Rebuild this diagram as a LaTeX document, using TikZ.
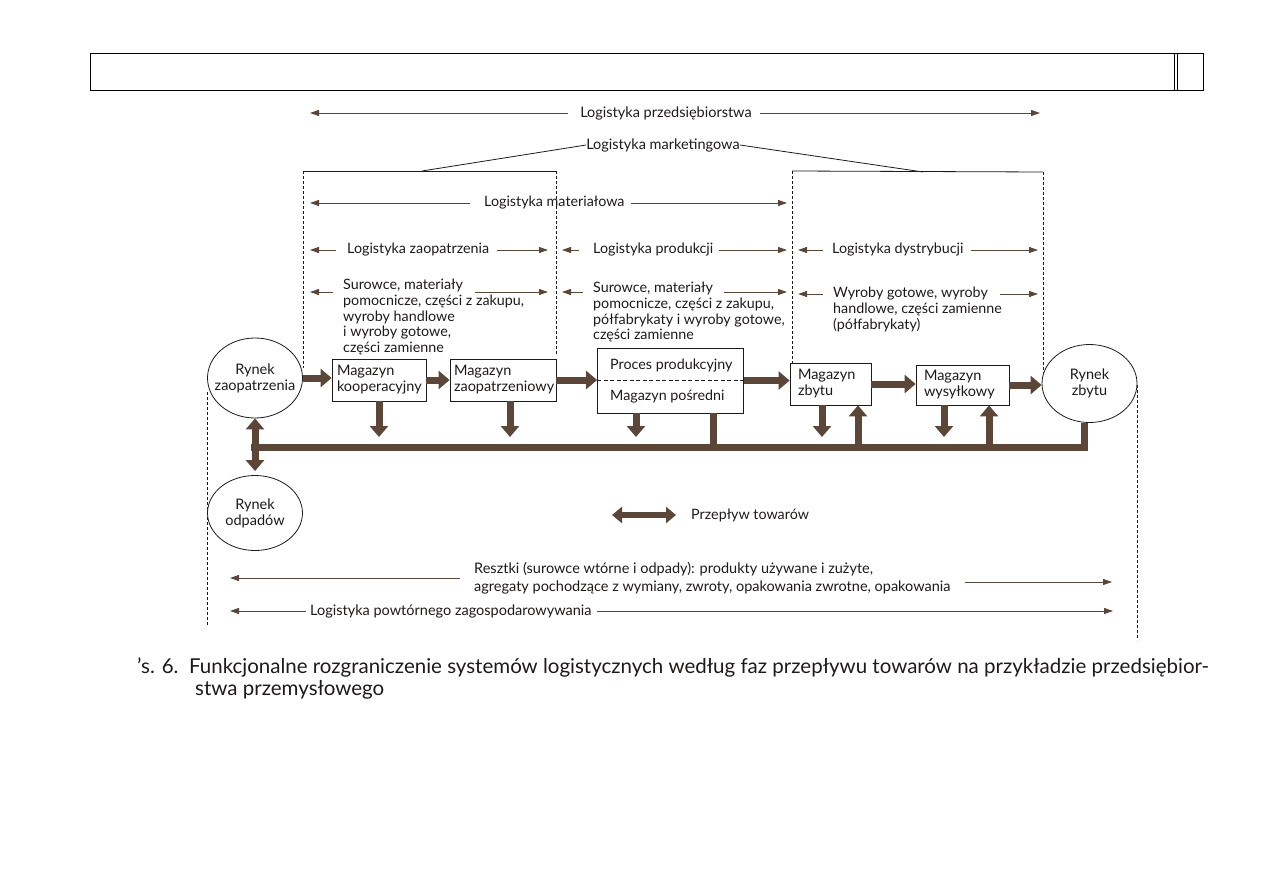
\documentclass[tikz,border=0pt]{standalone}
\usepackage{fontspec}
\setmainfont{Lato}
\usetikzlibrary{arrows.meta,shapes.geometric}
\definecolor{brn}{HTML}{5B4637}
\definecolor{ink}{HTML}{1E1A1A}
\begin{document}
\begin{tikzpicture}[x=1pt,y=-1pt,
  lbl/.style={font=\fontsize{14.3}{15.7}\selectfont, text=ink, inner sep=0pt, align=left},
  nar/.style={font=\fontsize{14.5}{18}\selectfont, text=ink, inner sep=0pt, align=left},
  thinarr/.style={draw=brn, line width=0.9pt, -{Triangle[length=9pt,width=6pt]}},
  bigarr/.style={draw=brn, line width=7pt, -{Triangle[length=11pt,width=18pt]}},
  dblarr/.style={draw=brn, line width=7pt, {Triangle[length=11pt,width=18pt]}-{Triangle[length=11pt,width=18pt]}},
  barline/.style={draw=brn, line width=7pt},
  dsh/.style={draw=ink, line width=0.7pt, dash pattern=on 3pt off 2pt},
  solidl/.style={draw=ink, line width=0.8pt},
  mbox/.style={draw=ink, line width=0.8pt, rectangle, inner xsep=5pt, inner ysep=0pt, align=left,
     font=\fontsize{14.5}{16}\selectfont, text=ink},
  mkt/.style={draw=ink, line width=0.8pt, ellipse, inner sep=0pt},
  mktxt/.style={inner sep=0pt, align=center, font=\fontsize{14.5}{16}\selectfont, text=ink}
]
\useasboundingbox[fill=white] (0,0) rectangle (1263,893);

% header table
\node[draw=black, line width=1.3pt, minimum width=1113pt, minimum height=37pt, inner sep=0pt, anchor=north west] (hdr) at (90,53) {};
\coordinate (h1) at (1174,53); \coordinate (h2) at (1174,90);
\coordinate (h3) at (1177,53); \coordinate (h4) at (1177,90);
\draw[line width=1pt] (h1) -- (h2) (h3) -- (h4);

% Logistyka przedsiebiorstwa
\node[nar, anchor=center] (lp) at (666,113) {Logistyka przedsiębiorstwa};
\coordinate (lpL) at (310,113); \coordinate (lpR) at (1040,113);
\draw[thinarr] ([xshift=-12pt]lp.west) -- (lpL);
\draw[thinarr] ([xshift=8pt]lp.east) -- (lpR);

% Logistyka marketingowa
\node[nar, anchor=center] (lm) at (663,145) {Logistyka marketingowa};
\coordinate (mL) at (422,171); \coordinate (mR) at (923,172);
\draw[solidl] (lm.west) -- (mL);
\draw[solidl] (lm.east) -- (mR);

% frame lines
\coordinate (aTL) at (303,171); \coordinate (aTR) at (556,171);
\coordinate (aBL) at (303,368); \coordinate (aBR) at (556,355);
\coordinate (bTL) at (792,171); \coordinate (bTR) at (1043,172);
\coordinate (bBL) at (792,363); \coordinate (bBR) at (1043,373);
\draw[solidl] (aTL) -- (aTR);
\draw[solidl] (bTL) -- (bTR);
\draw[dsh] (aTL) -- (aBL);
\draw[dsh] (aTR) -- (aBR);
\draw[dsh] (bTL) -- (bBL);
\draw[dsh] (bTR) -- (bBR);
\coordinate (oL1) at (207,392); \coordinate (oL2) at (207,625);
\coordinate (oR1) at (1137,385); \coordinate (oR2) at (1137,640);
\draw[dsh] (oL1) -- (oL2);
\draw[dsh] (oR1) -- (oR2);

% Logistyka materialowa
\node[lbl, anchor=west] (lmat) at (484,203) {Logistyka materiałowa};
\coordinate (lmatL) at (310,203); \coordinate (lmatR) at (787,203);
\draw[thinarr] ([xshift=-14pt]lmat.west) -- (lmatL);
\draw[thinarr] ([xshift=6pt]lmat.east) -- (lmatR);

% row 2
\node[lbl, anchor=west] (lz) at (347,250) {Logistyka zaopatrzenia};
\coordinate (lzL) at (310,250); \coordinate (lzR) at (548,250);
\draw[thinarr] ([xshift=-11pt]lz.west) -- (lzL);
\draw[thinarr] ([xshift=8pt]lz.east) -- (lzR);

\node[lbl, anchor=west] (lpr) at (593,250) {Logistyka produkcji};
\coordinate (lprL) at (562,250); \coordinate (lprR) at (787,250);
\draw[thinarr] ([xshift=-14pt]lpr.west) -- (lprL);
\draw[thinarr] ([xshift=6pt]lpr.east) -- (lprR);

\node[lbl, anchor=west] (ld) at (832,250) {Logistyka dystrybucji};
\coordinate (ldL) at (798,250); \coordinate (ldR) at (1038,250);
\draw[thinarr] ([xshift=-9pt]ld.west) -- (ldL);
\draw[thinarr] ([xshift=7pt]ld.east) -- (ldR);

% row 3
\node[lbl, anchor=north west] (s1) at (343,279) {Surowce, materiały\\pomocnicze, części z zakupu,\\wyroby handlowe\\i wyroby gotowe,\\części zamienne};
\coordinate (s1a) at (333,292); \coordinate (s1L) at (310,292);
\coordinate (s1b) at (475,292); \coordinate (s1R) at (548,292);
\draw[thinarr] (s1a) -- (s1L);
\draw[thinarr] (s1b) -- (s1R);

\node[lbl, anchor=north west] (s2) at (593,282) {Surowce, materiały\\pomocnicze, części z zakupu,\\półfabrykaty i wyroby gotowe,\\części zamienne};
\coordinate (s2a) at (583,292); \coordinate (s2L) at (562,292);
\coordinate (s2b) at (724,292); \coordinate (s2R) at (787,292);
\draw[thinarr] (s2a) -- (s2L);
\draw[thinarr] (s2b) -- (s2R);

\node[lbl, anchor=north west] (s3) at (833,287) {Wyroby gotowe, wyroby\\handlowe, części zamienne\\(półfabrykaty)};
\coordinate (s3a) at (823,294); \coordinate (s3L) at (798,294);
\coordinate (s3b) at (1000,294); \coordinate (s3R) at (1038,294);
\draw[thinarr] (s3a) -- (s3L);
\draw[thinarr] (s3b) -- (s3R);

% markets
\node[mkt, minimum width=95pt, minimum height=80pt] (rz) at (255,378) {};
\node[mktxt] (rzt) at (rz) {Rynek\\zaopatrzenia};
\node[mkt, minimum width=95pt, minimum height=75pt] (ro) at (255,513) {};
\node[mktxt] (rot) at (ro) {Rynek\\odpadów};
\node[mkt, minimum width=95pt, minimum height=78pt] (rzb) at (1089.5,383.5) {};
\node[mktxt] (rzbt) at (rzb) {Rynek\\zbytu};

% warehouses
\node[mbox, text width=84pt, minimum height=42pt] (mk) at (379,380) {Magazyn\\kooperacyjny};
\node[mbox, text width=98pt, minimum height=42pt, inner xsep=4pt] (mzo) at (503,380) {Magazyn\\zaopatrzeniowy};
\node[draw=ink, line width=0.8pt, minimum width=146pt, minimum height=65pt, inner sep=0pt] (proc) at (670.5,380.5) {};
\draw[draw=ink, line width=0.7pt, dash pattern=on 4pt off 2.5pt] (proc.west) -- (proc.east);
\node[lbl, anchor=west] (pp) at (610,366) {Proces produkcyjny};
\node[lbl, anchor=west] (mp) at (610,397) {Magazyn pośredni};
\node[mbox, text width=65pt, minimum height=42pt, inner xsep=8pt] (mzb) at (830.5,384) {Magazyn\\zbytu};
\node[mbox, text width=77pt, minimum height=40pt, inner xsep=8pt] (mw) at (962.5,385) {Magazyn\\wysyłkowy};

% horizontal flow arrows
\draw[bigarr] (rz.east) -- (rz.east -| mk.west);
\draw[bigarr] (mk.east) -- (mzo.west);
\draw[bigarr] (mzo.east) -- (mzo.east -| proc.west);
\draw[bigarr] (proc.east) -- (proc.east -| mzb.west);
\draw[bigarr] (mzb.east) -- (mzb.east -| mw.west);
\draw[bigarr] (mw.east) -- (mw.east -| rzb.west);

% bar
\coordinate (barL) at (251,447);
\coordinate (barR) at (1084,447);
\draw[barline] (barL) -- (barR) -- (barR |- rzb.south);

% down / up arrows
\coordinate (d1) at (379,437);
\coordinate (d2) at (510,437);
\coordinate (d3) at (636,437);
\coordinate (d4) at (713,447);
\coordinate (d5) at (822,437);
\coordinate (d6) at (944,437);
\coordinate (u1) at (858,447);
\coordinate (u2) at (989,447);
\draw[bigarr] (d1 |- mk.south) -- (d1);
\draw[bigarr] (d2 |- mzo.south) -- (d2);
\draw[bigarr] (d3 |- proc.south) -- (d3);
\draw[barline] (d4 |- proc.south) -- (d4);
\draw[bigarr] (d5 |- mzb.south) -- (d5);
\draw[bigarr] (u1) -- (u1 |- mzb.south);
\draw[bigarr] (d6 |- mw.south) -- (d6);
\draw[bigarr] (u2) -- (u2 |- mw.south);

% vertical double arrow
\draw[dblarr, shorten <=0pt, shorten >=4pt] (rz.south) -- (ro.north);

% legend
\coordinate (lg1) at (612,515); \coordinate (lg2) at (676,515);
\draw[draw=brn, line width=6pt, {Triangle[length=10pt,width=16pt]}-{Triangle[length=10pt,width=16pt]}] (lg1) -- (lg2);
\node[lbl, anchor=west] (legt) at (691,515) {Przepływ towarów};

% bottom texts
\node[nar, anchor=north west] (res) at (474,562) {Resztki (surowce wtórne i odpady): produkty używane i zużyte,\\agregaty pochodzące z wymiany, zwroty, opakowania zwrotne, opakowania};
\coordinate (resa) at (460,578); \coordinate (resL) at (230,578);
\coordinate (resb) at (965,582); \coordinate (resR) at (1112,582);
\draw[thinarr] (resa) -- (resL);
\draw[thinarr] (resb) -- (resR);

\node[nar, anchor=west] (lpz) at (310,611) {Logistyka powtórnego zagospodarowywania};
\coordinate (lpzL) at (230,611); \coordinate (lpzR) at (1113,611);
\draw[thinarr] ([xshift=-4pt]lpz.west) -- (lpzL);
\draw[thinarr] ([xshift=5pt]lpz.east) -- (lpzR);

% caption
\node[font=\fontsize{20.5}{22}\selectfont, text=ink, inner sep=0pt, anchor=west] (cap1) at (137,668) {’s. 6.\ \ Funkcjonalne rozgraniczenie systemów logistycznych według faz przepływu towarów na przykładzie przedsiębior-};
\node[font=\fontsize{20.5}{22}\selectfont, text=ink, inner sep=0pt, anchor=west] (cap2) at (195,690) {stwa przemysłowego};
\end{tikzpicture}
\end{document}
